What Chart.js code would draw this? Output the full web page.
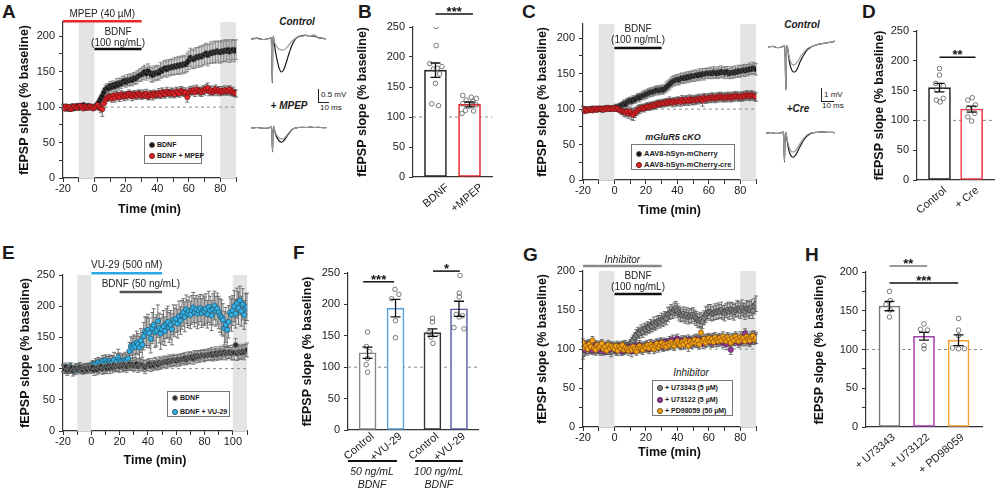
<!DOCTYPE html>
<html>
<head>
<meta charset="utf-8">
<script src="https://cdn.jsdelivr.net/npm/chart.js@4.4.1/dist/chart.umd.min.js"></script>
<style>
  body { margin: 0; background: #fff; font-family: "Liberation Sans", Arial, sans-serif; color: #1a1a1a; }
  #fig { position: relative; width: 999px; height: 492px; overflow: hidden; }
  canvas { position: absolute; }
  .t { position: absolute; white-space: nowrap; line-height: 1; }
  .lt { font-weight: bold; font-size: 19px; }
  .tl { font-weight: bold; font-style: italic; font-size: 10px; width: 60px; text-align: center; }
  .lg { position: absolute; box-sizing: border-box; border: 1px solid #777; background: #fff; font-weight: bold; }
  .lg div { position: absolute; left: 4px; white-space: nowrap; line-height: 1; }
  .dot { display: inline-block; width: 6px; height: 6px; border-radius: 50%; box-sizing: border-box; border: 0.8px solid #333; vertical-align: -1px; margin-right: 2px; }
  .sb { position: absolute; border-left: 1px solid #222; border-bottom: 1px solid #222; }
  .sm { font-size: 8px; }
</style>
</head>
<body>
<div id="fig">
  <div class="t lt" style="left:2px;top:2px">A</div>
  <div class="t lt" style="left:358px;top:2px">B</div>
  <div class="t lt" style="left:522px;top:2px">C</div>
  <div class="t lt" style="left:862px;top:2px">D</div>
  <div class="t lt" style="left:2px;top:243px">E</div>
  <div class="t lt" style="left:293px;top:243px">F</div>
  <div class="t lt" style="left:523px;top:245px">G</div>
  <div class="t lt" style="left:805px;top:245px">H</div>

  <!-- example traces labels -->
  <div class="t tl" style="left:267px;top:17px">Control</div>
  <div class="t tl" style="left:259px;top:101px">+ MPEP</div>
  <div class="sb" style="left:318px;top:89px;width:10px;height:13px"></div>
  <div class="t sm" style="left:321px;top:91px">0.5 mV</div>
  <div class="t sm" style="left:320px;top:104px">10 ms</div>

  <div class="t tl" style="left:772px;top:20px">Control</div>
  <div class="t tl" style="left:768px;top:104px">+Cre</div>
  <div class="sb" style="left:821px;top:88px;width:12px;height:13px"></div>
  <div class="t sm" style="left:824px;top:91px">1 mV</div>
  <div class="t sm" style="left:822px;top:102px">10 ms</div>

  <!-- legends -->
  <div class="lg" style="left:144px;top:135px;width:58px;height:29px;font-size:7px">
    <div style="top:5px"><span class="dot" style="background:#111;border-color:#555"></span>BDNF</div>
    <div style="top:16px"><span class="dot" style="background:#e8262b;border-color:#6a1010"></span>BDNF + MPEP</div>
  </div>
  <div class="t" style="left:623px;top:133px;width:100px;text-align:center;font-size:9px;font-weight:bold;font-style:italic">mGluR5 cKO</div>
  <div class="lg" style="left:631px;top:144px;width:104px;height:26px;font-size:7.5px">
    <div style="top:5px"><span class="dot" style="background:#111;border-color:#555"></span>AAV8-hSyn-mCherry</div>
    <div style="top:16px"><span class="dot" style="background:#e8262b;border-color:#6a1010"></span>AAV8-hSyn-mCherry-cre</div>
  </div>
  <div class="lg" style="left:167px;top:391px;width:63px;height:26px;font-size:7px">
    <div style="top:2px"><span class="dot" style="background:#2a2a2a;border-color:#888"></span>BDNF</div>
    <div style="top:16px"><span class="dot" style="background:#35b0e4;border-color:#1d4f66"></span>BDNF + VU-29</div>
  </div>
  <div class="t" style="left:651px;top:368px;width:80px;text-align:center;font-size:10px;font-style:italic">Inhibitor</div>
  <div class="lg" style="left:652px;top:380px;width:81px;height:36px;font-size:7px">
    <div style="top:3px"><span class="dot" style="background:#8a8a8a;border-color:#333"></span>+ U73343 (5 µM)</div>
    <div style="top:14.5px"><span class="dot" style="background:#9b3aa0;border-color:#4a164d"></span>+ U73122 (5 µM)</div>
    <div style="top:26px"><span class="dot" style="background:#f7a21b;border-color:#7a4d00"></span>+ PD98059 (50 µM)</div>
  </div>
</div>

<script>
// ---------------- data ----------------
// time courses: one sample per minute, first sample at -20 min
const timeStart = -20;

// A: BDNF vs BDNF + MPEP
const aBdnf = [
  101,99,98,100,97,99,101,98,100,102,
  99,101,100,103,101,99,102,100,101,99,
  100,102,104,108,112,116,121,125,127,126,
  130,128,131,129,133,131,134,133,136,137,
  135,138,137,139,138,141,140,142,144,145,
  146,148,150,147,151,149,146,145,148,147,
  149,148,152,151,154,155,153,156,155,157,
  156,158,157,159,158,160,159,161,160,163,
  166,170,168,167,169,171,170,172,171,173,
  174,176,173,175,177,176,178,177,179,178,
  177,179,178,180,179,181,178,180,181,179,
  181];
const aBdnfErr = [
  3,3,4,3,3,3,4,3,3,3,
  4,3,3,3,4,3,3,3,3,3,
  3,3,4,4,5,5,5,6,6,6,
  6,6,6,6,7,7,7,7,7,7,
  7,8,7,8,8,8,8,9,8,9,
  9,9,9,9,10,9,10,10,10,10,
  10,10,11,10,11,11,11,11,11,11,
  11,12,11,12,12,12,12,12,12,13,
  13,13,13,13,14,13,14,14,14,14,
  14,14,15,14,15,14,15,15,14,15,
  15,15,14,15,15,14,15,15,14,15,
  14];
const aMpep = [
  100,98,101,99,100,97,99,101,100,99,
  101,102,100,98,101,100,99,101,100,98,
  99,101,103,100,98,97,105,110,113,115,
  114,112,116,113,117,115,114,118,116,115,
  117,116,119,117,115,118,117,116,119,118,
  116,118,117,119,115,117,118,116,119,117,
  118,120,117,121,119,118,122,120,119,121,
  120,118,122,121,119,123,122,120,121,114,
  121,123,122,124,121,125,123,122,121,124,
  123,126,127,122,124,121,123,125,122,124,
  121,123,122,124,122,123,125,121,122,120,
  119];
const aMpepErr = [
  3,3,3,4,3,3,3,3,4,3,
  3,3,3,3,3,4,3,3,3,3,
  3,4,4,5,6,10,6,5,5,5,
  5,5,5,6,5,5,6,5,5,6,
  5,6,5,5,6,5,6,5,5,6,
  5,6,5,6,5,6,5,6,5,5,
  5,6,5,6,6,5,6,5,6,6,
  6,5,6,6,5,6,6,5,6,7,
  6,6,5,6,6,6,5,6,6,6,
  6,6,7,6,6,5,6,6,6,5,
  5,6,5,6,5,6,5,5,6,5,
  5];

// C: mGluR5 cKO
const cCtrl = [
  101,99,100,98,100,99,101,100,99,100,
  101,100,99,101,100,102,101,100,101,102,
  101,103,102,104,105,106,108,107,110,111,
  112,111,114,113,115,117,116,118,119,120,
  121,122,123,124,124,125,126,127,126,127,
  128,127,129,131,133,135,137,139,140,141,
  142,141,143,144,143,145,144,146,145,147,
  146,147,148,147,149,148,150,149,150,151,
  150,151,150,152,151,150,152,151,153,152,
  151,153,152,150,151,152,151,153,152,154,
  153,154,155,154,156,155,157,156,158,157,
  156];
const cCtrlErr = [
  3,3,3,3,3,3,3,3,3,3,
  3,3,3,3,3,3,3,3,3,3,
  3,4,4,4,4,4,5,5,5,5,
  5,5,5,5,5,5,6,5,6,6,
  6,6,6,6,6,6,6,6,6,6,
  6,6,6,7,7,7,7,7,7,7,
  7,7,7,7,7,7,7,7,7,7,
  7,8,7,7,8,7,7,8,7,7,
  7,8,7,8,7,7,8,7,8,7,
  8,7,8,7,8,8,7,8,7,8,
  8,7,8,8,7,8,8,7,8,8,
  8];
const cCre = [
  100,97,99,98,100,99,98,100,101,99,
  100,101,100,99,101,100,102,100,101,100,
  102,100,101,99,98,97,96,95,97,94,
  96,93,92,95,97,99,100,101,102,101,
  103,104,103,105,104,106,105,107,108,107,
  108,109,108,110,109,111,110,109,111,110,
  111,112,110,113,111,112,113,111,114,112,
  113,112,114,113,115,114,112,116,114,115,
  116,115,117,116,115,117,116,118,117,116,
  117,116,118,117,116,118,117,119,118,117,
  118,117,119,118,120,119,118,120,119,118,
  117];
const cCreErr = [
  3,3,3,3,3,3,3,3,3,3,
  3,3,3,3,3,3,3,3,3,3,
  3,3,4,4,5,5,6,6,7,7,
  7,8,8,7,6,6,6,5,5,5,
  5,5,5,5,5,5,5,5,5,5,
  5,5,5,5,5,6,5,6,5,6,
  6,5,6,6,6,6,6,6,6,6,
  6,6,6,6,6,6,8,6,6,6,
  6,6,6,6,6,6,6,6,6,6,
  6,6,6,6,6,6,6,6,6,6,
  6,6,6,6,6,6,6,6,6,6,
  6];

// E: BDNF 50 ng/mL +/- VU-29 (to 110 min)
const eBdnf = [
  101,99,103,97,100,98,102,96,99,101,
  98,100,102,99,97,101,100,98,102,101,
  99,103,97,101,98,102,100,104,99,101,
  103,100,105,101,104,102,106,103,105,104,
  103,106,104,107,105,103,106,108,105,107,
  104,106,108,103,105,107,106,104,102,105,
  106,108,104,107,105,109,107,106,110,108,
  109,111,110,112,110,113,111,112,114,113,
  112,115,113,114,116,115,117,114,116,118,
  117,119,116,120,118,121,119,120,122,121,
  120,122,121,123,122,124,121,123,125,122,
  124,126,123,125,127,124,126,125,127,124,
  126,125,138,124,127,126,125,128,126,129,
  130];
const eBdnfErr = [
  6,7,6,8,7,6,7,8,6,7,
  7,6,8,7,6,7,7,6,7,7,
  7,8,8,7,8,9,8,9,8,9,
  9,8,9,9,8,9,9,8,9,9,
  9,8,9,9,8,9,9,9,8,9,
  9,9,8,9,9,8,9,9,10,9,
  9,8,9,9,8,9,9,8,9,9,
  8,9,9,8,9,9,8,9,9,8,
  9,8,9,9,8,9,9,8,9,9,
  9,8,9,9,9,8,9,9,8,9,
  9,9,8,9,9,10,9,9,10,9,
  9,10,9,10,9,10,10,9,10,10,
  12,11,10,11,12,11,10,11,12,10,
  11];
const eVu = [
  100,102,98,101,97,103,99,100,96,101,
  99,102,98,100,101,97,99,102,100,101,
  104,106,103,108,107,110,106,109,112,108,
  113,110,108,112,109,111,114,107,112,118,
  113,111,112,109,114,112,116,128,136,133,
  138,135,142,139,134,145,138,152,160,158,
  162,157,148,165,170,158,161,176,165,156,
  163,168,160,172,175,166,170,163,178,174,
  180,172,184,177,186,190,183,195,188,192,
  186,194,198,190,195,188,193,197,189,194,
  192,196,187,199,193,185,195,201,192,196,
  190,185,182,178,165,170,162,175,190,186,
  193,200,188,205,197,209,192,203,186,196,
  199];
const eVuErr = [
  5,5,6,5,5,6,5,5,6,5,
  5,6,5,5,6,5,5,6,5,5,
  6,7,6,8,7,8,9,8,9,10,
  9,10,11,10,11,10,12,11,12,13,
  12,11,12,13,12,11,12,14,15,16,
  16,17,18,17,18,19,20,22,23,24,
  25,24,23,25,26,24,25,26,24,25,
  24,25,23,24,25,24,23,25,24,23,
  22,23,24,22,23,22,24,23,22,23,
  22,23,24,23,22,24,23,22,23,24,
  23,24,22,25,23,24,25,23,24,25,
  26,27,28,26,27,28,27,26,25,26,
  24,25,23,24,26,23,24,25,23,24,
  22];

// G: inhibitors
const gU343 = [
  93,100,105,97,102,99,106,101,98,103,
  100,97,104,99,101,98,103,100,96,102,
  101,99,104,102,98,103,100,105,102,104,
  106,109,111,115,118,121,120,124,122,126,
  125,128,127,130,129,133,131,134,136,135,
  138,137,140,139,144,146,148,147,150,152,
  149,146,144,143,145,142,144,141,143,142,
  144,141,139,137,136,138,135,140,144,146,
  148,147,145,146,148,147,149,148,150,147,
  146,149,150,148,151,149,147,150,152,151,
  149,153,150,148,152,151,150,153,149,155,
  158];
const gU343Err = [
  6,5,6,5,6,5,6,5,6,5,
  6,5,6,5,6,5,6,5,6,5,
  6,5,6,5,6,6,5,6,6,5,
  6,6,7,6,7,7,6,7,7,7,
  7,7,7,8,7,8,7,8,7,8,
  8,8,8,8,9,8,9,8,9,9,
  9,9,9,8,9,9,9,9,9,9,
  9,9,9,9,9,9,9,9,10,9,
  9,10,9,9,10,9,10,9,10,9,
  10,9,10,10,9,10,10,9,10,10,
  10,10,9,10,10,10,11,10,10,10,
  10];
const gU122 = [
  104,99,102,106,100,103,98,101,105,102,
  99,104,101,97,103,100,102,99,104,101,
  102,98,100,103,101,97,104,99,102,100,
  103,97,101,104,99,102,105,100,103,101,
  104,102,100,106,103,105,102,107,104,108,
  106,103,109,107,105,110,106,112,108,111,
  113,109,107,111,106,110,108,112,109,107,
  111,109,113,108,112,110,107,111,109,113,
  110,112,108,114,111,109,113,110,112,108,
  111,106,113,109,99,112,110,114,111,108,
  112,110,115,120,111,113,109,114,112,116,
  113];
const gU122Err = [
  5,5,6,5,5,6,5,5,6,5,
  5,6,5,5,6,5,5,6,5,5,
  5,6,5,5,6,5,6,5,6,5,
  6,7,5,6,5,6,6,5,6,5,
  6,5,6,6,5,6,6,5,6,6,
  6,6,5,6,6,6,5,6,6,6,
  6,6,6,6,6,6,6,6,6,6,
  6,6,6,6,6,6,6,6,6,6,
  6,6,6,6,6,6,6,6,6,6,
  6,7,6,6,6,6,6,6,6,6,
  6,6,7,6,6,6,6,6,6,7,
  6];
const gPd = [
  108,102,104,100,106,103,111,101,99,105,
  102,104,107,100,103,98,105,101,104,102,
  100,104,98,103,101,105,99,102,100,98,
  101,99,103,100,97,102,104,101,99,103,
  102,105,101,106,103,100,104,107,102,105,
  108,104,106,103,107,105,109,106,104,108,
  110,107,105,109,106,111,108,104,110,107,
  109,112,108,111,106,121,110,113,108,112,
  114,110,113,109,115,112,110,114,111,116,
  113,110,115,112,108,114,111,116,113,110,
  115,112,114,110,116,113,111,115,117,112,
  114];
const gPdErr = [
  5,6,5,5,6,5,5,6,5,5,
  6,5,5,6,5,5,6,5,5,6,
  5,5,6,5,6,5,6,5,5,6,
  6,5,6,6,5,6,5,6,6,5,
  6,6,5,6,6,6,5,6,6,6,
  6,6,6,5,6,6,6,6,6,6,
  6,6,6,6,6,6,6,7,6,6,
  6,6,6,6,6,7,6,6,6,6,
  6,7,6,6,6,6,7,6,6,6,
  6,6,6,7,6,6,6,6,7,6,
  7,6,6,6,7,6,6,7,6,6,
  7];

// B: bar + individual slices
const bCats = ['BDNF', '+MPEP'];
const bMeans = [178, 121];
const bSems = [12, 4];
const bBdnfPts = [251, 219, 189, 184, 181, 180, 172, 156, 122, 119];
const bMpepPts = [136, 133, 131, 128, 126, 122, 120, 118, 111, 110, 106];

// D
const dCats = ['Control', '+ Cre'];
const dMeans = [155, 119];
const dSems = [7, 5];
const dCtrlPts = [187, 176, 162, 158, 151, 137, 134, 131];
const dCrePts = [138, 134, 126, 120, 112, 106, 99];

// F
const fCats = ['Control', '+VU-29', 'Control', '+VU-29'];
const fMeans = [123, 194, 155, 193];
const fSems = [9, 14, 6, 12];
const fCtl50Pts = [156, 133, 125, 114, 104, 92];
const fVu50Pts = [224, 216, 209, 174, 147];
const fCtl100Pts = [178, 172, 155, 152, 148, 138];
const fVu100Pts = [246, 218, 212, 184, 182, 180, 163, 161];

// H
const hCats = ['+ U73343', '+ U73122', '+ PD98059'];
const hMeans = [156, 117, 112];
const hSems = [6, 5, 7];
const hU343Pts = [175, 163, 158, 151, 142];
const hU122Pts = [133, 126, 125, 105, 101];
const hPdPts = [140, 125, 118, 102, 101, 101];

// example fEPSP traces (ms, mV)
const trTimeA = [0,6,12,18,20,21,21.5,22,23,24,26,28,30,32,34,36,38,40,43,46,50,54,58,62,66,70,74];
const trACtrlPost = [0,0.03,-0.02,0.02,0.05,-1.69,-0.2,0.1,-0.15,-0.45,-0.85,-1.15,-1.27,-1.2,-1.0,-0.75,-0.5,-0.28,-0.05,0.08,0.12,0.15,0.1,0.12,0.05,0.03,0];
const trACtrlPre = [0,0.02,-0.02,0.02,0.05,-1.65,-0.2,0.08,-0.1,-0.2,-0.32,-0.4,-0.42,-0.42,-0.38,-0.3,-0.2,-0.1,0,0.08,0.1,0.14,0.1,0.16,0.06,0.03,0];
const trAMpepPost = [0,0.02,-0.01,0.01,0.04,-0.92,-0.15,0.06,-0.1,-0.25,-0.42,-0.52,-0.54,-0.48,-0.38,-0.26,-0.15,-0.06,0,0.02,0.03,0.02,0.04,0.02,0.03,0.01,0.02];
const trAMpepPre = [0,0.02,-0.01,0.01,0.04,-0.9,-0.15,0.06,-0.08,-0.2,-0.33,-0.4,-0.42,-0.39,-0.32,-0.22,-0.13,-0.05,0,0.02,0.03,0.02,0.04,0.02,0.03,0.01,0.02];
const trTimeC = [0,4,8,12,14,15,15.5,16,17,18,19.5,21,22.5,24,25.5,27,29,31,33,36,39,42,45,48,51,54,56];
const trCCtrlPost = [0,0.05,-0.05,0.02,0.1,-3.3,-0.4,0.1,-0.5,-1.2,-1.7,-1.9,-1.92,-1.75,-1.45,-1.1,-0.75,-0.45,-0.2,0,0.12,0.2,0.25,0.3,0.35,0.4,0.45];
const trCCtrlPre = [0,0.05,-0.05,0.02,0.1,-3.2,-0.4,0.1,-0.4,-0.9,-1.25,-1.38,-1.35,-1.2,-1.0,-0.75,-0.5,-0.3,-0.12,0.02,0.12,0.2,0.25,0.3,0.36,0.4,0.44];
const trCCrePost = [0,0.03,-0.03,0.01,0.08,-2.23,-0.3,0.05,-0.5,-1.1,-1.6,-1.82,-1.85,-1.7,-1.45,-1.15,-0.8,-0.5,-0.25,-0.05,0.03,0.05,0.08,0.06,0.05,0.04,0.03];
const trCCrePre = [0,0.03,-0.03,0.01,0.08,-2.15,-0.3,0.05,-0.4,-0.85,-1.25,-1.44,-1.46,-1.35,-1.15,-0.9,-0.62,-0.38,-0.18,-0.02,0.03,0.05,0.07,0.06,0.05,0.04,0.03];

// ---------------- drawing ----------------
Chart.defaults.font.family = '"Liberation Sans", Arial, sans-serif';
Chart.defaults.color = '#222';
const AX = '#333';
const F10 = '10px "Liberation Sans", Arial, sans-serif';
const F10I = 'italic 10px "Liberation Sans", Arial, sans-serif';
const fig = document.getElementById('fig');

function cv(l, t, w, h) {
  const c = document.createElement('canvas');
  c.width = w; c.height = h;
  c.style.left = l + 'px'; c.style.top = t + 'px';
  fig.appendChild(c);
  return c;
}

function drawErr(chart) {
  const { ctx, scales: { y } } = chart;
  chart.data.datasets.forEach((ds, i) => {
    if (!ds.err) return;
    const meta = chart.getDatasetMeta(i);
    ctx.strokeStyle = ds.errColor;
    ctx.lineWidth = ds.errWidth;
    const cap = ds.errCap;
    meta.data.forEach((el, j) => {
      const v = ds.data[j].y, e = ds.err[j];
      const t = y.getPixelForValue(v + e), b = y.getPixelForValue(v - e), px = el.x;
      ctx.beginPath();
      ctx.moveTo(px, t); ctx.lineTo(px, b);
      ctx.moveTo(px - cap, t); ctx.lineTo(px + cap, t);
      ctx.moveTo(px - cap, b); ctx.lineTo(px + cap, b);
      ctx.stroke();
    });
  });
}

const deco = {
  id: 'deco',
  beforeDatasetsDraw(chart, args, o) {
    const { ctx, chartArea: a, scales: { x, y } } = chart;
    ctx.save();
    (o.shade || []).forEach(([s, e]) => {
      const x0 = x.getPixelForValue(s), x1 = x.getPixelForValue(e);
      ctx.fillStyle = '#e4e4e4';
      ctx.fillRect(x0, a.top, x1 - x0, a.bottom - a.top);
    });
    if (o.base != null) {
      const py = y.getPixelForValue(o.base);
      ctx.strokeStyle = '#8a8a8a'; ctx.lineWidth = 1; ctx.setLineDash([3, 3]);
      ctx.beginPath(); ctx.moveTo(a.left, py); ctx.lineTo(a.right, py); ctx.stroke();
      ctx.setLineDash([]);
    }
    if (!o.errOnTop) drawErr(chart);
    ctx.restore();
  },
  afterDatasetsDraw(chart, args, o) {
    if (o.errOnTop) { chart.ctx.save(); drawErr(chart); chart.ctx.restore(); }
  },
  afterDraw(chart, args, o) {
    const { ctx, chartArea: a, scales: { x, y } } = chart;
    ctx.save();
    ctx.textAlign = 'center'; ctx.textBaseline = 'middle';
    (o.drugs || []).forEach(d => {
      const x0 = x.getPixelForValue(d.from), x1 = x.getPixelForValue(d.to), py = y.getPixelForValue(d.at);
      ctx.strokeStyle = d.color; ctx.lineWidth = 2.5;
      ctx.beginPath(); ctx.moveTo(x0, py); ctx.lineTo(x1, py); ctx.stroke();
      ctx.fillStyle = '#222';
      d.text.forEach(([s, dy, f]) => { ctx.font = f || F10; ctx.fillText(s, (x0 + x1) / 2, py - dy); });
    });
    (o.sig || []).forEach(s => {
      const x0 = x.getPixelForValue(s.from), x1 = x.getPixelForValue(s.to), py = y.getPixelForValue(s.at);
      ctx.strokeStyle = s.color || '#111'; ctx.lineWidth = 1.5;
      ctx.beginPath(); ctx.moveTo(x0, py); ctx.lineTo(x1, py); ctx.stroke();
      ctx.fillStyle = '#111'; ctx.font = 'bold 13px "Liberation Sans", Arial, sans-serif';
      ctx.textBaseline = 'alphabetic';
      ctx.fillText(s.stars, (x0 + x1) / 2, py + 2);
      ctx.textBaseline = 'middle';
    });
    (o.groups || []).forEach(g => {
      const x0 = x.getPixelForValue(g.from), x1 = x.getPixelForValue(g.to), xm = x.getPixelForValue(g.mid);
      ctx.strokeStyle = '#111'; ctx.lineWidth = 2;
      ctx.beginPath(); ctx.moveTo(x0, a.bottom + 31); ctx.lineTo(x1, a.bottom + 31); ctx.stroke();
      ctx.fillStyle = '#222'; ctx.font = 'italic 10.5px "Liberation Sans", Arial, sans-serif';
      ctx.fillText(g.lines[0], xm, a.bottom + 42);
      ctx.fillText(g.lines[1], xm, a.bottom + 55);
    });
    ctx.restore();
  }
};
Chart.register(deco);

function yAxis(max, w) {
  return {
    min: 0, max: max,
    afterFit: s => { s.width = w; },
    ticks: { stepSize: 25, includeBounds: false, font: { size: 11 }, color: '#222', padding: 4,
             callback: v => (v % 50 === 0 ? v : '') },
    grid: { drawOnChartArea: false, tickLength: 4, tickColor: AX, tickWidth: 1 },
    border: { color: AX, width: 1.2 },
    title: { display: true, text: 'fEPSP slope (% baseline)', font: { size: 12.5, weight: 'bold' }, color: '#111', padding: 0 }
  };
}

function series(vals, err, col) {
  return {
    data: vals.map((v, i) => ({ x: timeStart + i, y: v })),
    err: err, errColor: col.err, errWidth: 0.8, errCap: 2,
    backgroundColor: col.fill, borderColor: col.edge, borderWidth: 0.7,
    pointRadius: col.r || 2.5, order: col.order
  };
}

function timeChart(el, p) {
  return new Chart(el, {
    type: 'scatter',
    data: { datasets: p.sets },
    options: {
      responsive: false, animation: false, events: [],
      layout: { padding: p.pad },
      plugins: { legend: { display: false }, tooltip: { enabled: false }, deco: p.deco },
      scales: {
        x: {
          type: 'linear', min: p.xmin, max: p.xmax,
          afterFit: s => { s.height = p.xh; },
          ticks: { stepSize: 10, includeBounds: false, autoSkip: false, maxRotation: 0, font: { size: 11 }, color: '#222', padding: 0,
                   callback: v => (v % 20 === 0 ? v : '') },
          grid: { drawOnChartArea: false, tickLength: 4, tickColor: AX, tickWidth: 1 },
          border: { color: AX, width: 1.2 },
          title: { display: true, text: 'Time (min)', font: { size: 12.5, weight: 'bold' }, color: '#111', padding: 0 }
        },
        y: yAxis(p.ymax, p.yw)
      }
    }
  });
}

function barChart(el, p) {
  const sets = [{
    type: 'bar',
    data: p.means.map((m, i) => ({ x: p.slots[i], y: m })),
    err: p.sems, errColor: '#111', errWidth: 1.3, errCap: 5,
    backgroundColor: '#fff', borderColor: p.colors, borderWidth: 1.6, borderSkipped: false,
    barThickness: p.bw, order: 2
  }];
  p.pts.forEach((arr, i) => sets.push({
    type: 'scatter',
    data: arr.map((v, k) => ({ x: p.slots[i] + p.jit[i][k], y: v })),
    pointRadius: 2.3, borderColor: '#6a6a6a', borderWidth: 0.9, backgroundColor: 'rgba(255,255,255,0)', order: 1
  }));
  return new Chart(el, {
    type: 'bar',
    data: { datasets: sets },
    options: {
      responsive: false, animation: false, events: [],
      layout: { padding: p.pad },
      plugins: { legend: { display: false }, tooltip: { enabled: false }, deco: p.deco },
      scales: {
        x: {
          type: 'linear', min: p.xmin, max: p.xmax, offset: false,
          afterFit: s => { s.height = p.xh; },
          // label anchors nudged right, as the rotated labels sit in the original
          afterBuildTicks: s => { s.ticks = p.slots.map(v => ({ value: v + p.lshift })); },
          ticks: { autoSkip: false, minRotation: 40, maxRotation: 40, font: { size: 11 }, color: '#222', padding: p.lpad,
                   callback: (v, i) => p.cats[i] },
          grid: { display: false, offset: false },
          border: { display: true, color: AX, width: 1.2 }
        },
        y: yAxis(p.ymax, p.yw)
      }
    }
  });
}

function traceChart(el, t, post, pre, ymin, ymax) {
  return new Chart(el, {
    type: 'line',
    data: { datasets: [
      { data: t.map((x, i) => ({ x, y: pre[i] })), borderColor: '#9a9a9a', borderWidth: 1.2, pointRadius: 0, cubicInterpolationMode: 'monotone', order: 0 },
      { data: t.map((x, i) => ({ x, y: post[i] })), borderColor: '#1a1a1a', borderWidth: 1.2, pointRadius: 0, cubicInterpolationMode: 'monotone', order: 1 }
    ] },
    options: {
      responsive: false, animation: false, events: [],
      layout: { padding: 0 },
      plugins: { legend: { display: false }, tooltip: { enabled: false } },
      scales: {
        x: { type: 'linear', display: false, min: t[0], max: t[t.length - 1] },
        y: { display: false, min: ymin, max: ymax }
      }
    }
  });
}

const BLACK = { fill: '#111', edge: '#555', err: '#777' };
const RED = { fill: '#e8262b', edge: '#6a1010', err: '#555' };

// ---- A ----
timeChart(cv(0, 0, 250, 240), {
  pad: { left: 17, top: 22, right: 14, bottom: 22.5 }, yw: 46, xh: 39.5,
  xmin: -20, xmax: 90, ymax: 220,
  sets: [series(aMpep, aMpepErr, { ...RED, order: 0 }), series(aBdnf, aBdnfErr, { ...BLACK, order: 1 })],
  deco: {
    shade: [[-10, 0], [80, 90]], base: 100,
    drugs: [
      { from: -20, to: 30, at: 221, color: '#e8262b', text: [['MPEP (40 µM)', 7]] },
      { from: 0, to: 30, at: 182, color: '#111', text: [['BDNF', 17], ['(100 ng/mL)', 6]] }
    ]
  }
});

// ---- C ----
timeChart(cv(510, 0, 260, 240), {
  pad: { left: 25.5, top: 24, right: 14, bottom: 21.5 }, yw: 47.5, xh: 38.5,
  xmin: -20, xmax: 90, ymax: 220,
  sets: [series(cCre, cCreErr, { ...RED, order: 0 }), series(cCtrl, cCtrlErr, { ...BLACK, order: 1 })],
  deco: {
    shade: [[-10, 0], [80, 90]], base: 100,
    drugs: [{ from: 0, to: 30, at: 186, color: '#111', text: [['BDNF', 19], ['(100 ng/mL)', 8]] }]
  }
});

// ---- E ----
timeChart(cv(0, 240, 260, 252), {
  pad: { left: 18.5, top: 35, right: 13, bottom: 23.5 }, yw: 44.5, xh: 37.5,
  xmin: -20, xmax: 110, ymax: 250,
  sets: [
    series(eBdnf, eBdnfErr, { fill: '#2a2a2a', edge: '#8a8a8a', err: '#666', r: 2.6, order: 0 }),
    series(eVu, eVuErr, { fill: '#35b0e4', edge: '#1d4f66', err: '#555', r: 2.6, order: 1 })
  ],
  deco: {
    shade: [[-10, 0], [100, 110]], base: 100,
    drugs: [
      { from: 0, to: 50, at: 253, color: '#29abe2', text: [['VU-29 (500 nM)', 8]] },
      { from: 20, to: 50, at: 222.7, color: '#555', text: [['BDNF (50 ng/mL)', 8]] }
    ]
  }
});

// ---- G ----
timeChart(cv(510, 240, 260, 252), {
  pad: { left: 25.5, top: 31, right: 14, bottom: 31.5 }, yw: 47.5, xh: 33.5,
  xmin: -20, xmax: 90, ymax: 200,
  sets: [
    series(gPd, gPdErr, { fill: '#f7a21b', edge: '#7a4d00', err: '#555', r: 2.6, order: 0 }),
    series(gU122, gU122Err, { fill: '#9b3aa0', edge: '#4a164d', err: '#555', r: 2.6, order: 1 }),
    series(gU343, gU343Err, { fill: '#8a8a8a', edge: '#333', err: '#555', r: 2.6, order: 2 })
  ],
  deco: {
    shade: [[-10, 0], [80, 90]], base: 100,
    drugs: [
      { from: -20, to: 30, at: 206.4, color: '#888', text: [['Inhibitor', 6, F10I]] },
      { from: 0, to: 30, at: 170.5, color: '#111', text: [['BDNF', 18], ['(100 ng/mL)', 7]] }
    ]
  }
});

// ---- B ----
barChart(cv(335, 0, 165, 240), {
  pad: { left: 20.5, top: 27, right: 8, bottom: 8 }, yw: 57.5, xh: 55,
  xmin: -0.66, xmax: 1.66, ymax: 250, bw: 22, lshift: 0.35, lpad: -4,
  cats: bCats, slots: [0, 1], means: bMeans, sems: bSems,
  colors: ['#222', '#e8262b'],
  pts: [bBdnfPts, bMpepPts],
  jit: [[0.02, 0.02, -0.17, 0.19, 0.05, -0.06, 0.12, 0.0, -0.11, 0.09],
        [-0.2, 0.05, 0.2, -0.1, 0.1, -0.2, 0.2, 0.0, -0.12, 0.12, -0.22]],
  deco: { base: 100, errOnTop: true, sig: [{ from: 0, to: 1.1, at: 271.7, stars: '***' }] }
});

// ---- D ----
barChart(cv(840, 0, 159, 240), {
  pad: { left: 32.5, top: 31, right: 3, bottom: 5 }, yw: 44.5, xh: 55,
  xmin: -0.7, xmax: 1.7, ymax: 250, bw: 22, lshift: 0.18, lpad: -4,
  cats: dCats, slots: [0, 1], means: dMeans, sems: dSems,
  colors: ['#222', '#ef3b4a'],
  pts: [dCtrlPts, dCrePts],
  jit: [[0, 0, -0.12, 0.12, -0.08, 0.12, -0.1, 0.02],
        [0.02, -0.12, 0.12, -0.1, 0.1, -0.12, 0]],
  deco: { base: 100, errOnTop: true, sig: [{ from: 0, to: 1.12, at: 206, stars: '**' }] }
});

// ---- F ----
barChart(cv(300, 240, 190, 252), {
  pad: { left: 0.5, top: 33, right: 12, bottom: 22 }, yw: 47.5, xh: 40,
  xmin: -0.7, xmax: 3.95, ymax: 250, bw: 17, lshift: 0.18, lpad: -8,
  cats: fCats, slots: [0, 1, 2.32, 3.27], means: fMeans, sems: fSems,
  colors: ['#888', '#5aa0d8', '#333', '#5a5fa8'],
  pts: [fCtl50Pts, fVu50Pts, fCtl100Pts, fVu100Pts],
  jit: [[0, -0.04, 0.06, 0, -0.05, 0],
        [-0.02, 0.12, -0.14, 0, 0],
        [0, 0, -0.12, 0.12, -0.05, 0.02],
        [0.04, 0.01, 0.01, -0.1, 0.13, 0.01, -0.18, 0.18]],
  deco: {
    base: 100, errOnTop: true,
    sig: [{ from: -0.16, to: 0.95, at: 236, stars: '***' }, { from: 2.34, to: 3.3, at: 253, stars: '*' }],
    groups: [{ from: -0.7, to: 1.05, mid: 0.16, lines: ['50 ng/mL', 'BDNF'] },
             { from: 1.7, to: 3.41, mid: 2.55, lines: ['100 ng/mL', 'BDNF'] }]
  }
});

// ---- H ----
barChart(cv(800, 240, 199, 252), {
  pad: { left: 12.5, top: 32, right: 17, bottom: 5 }, yw: 53.5, xh: 60,
  xmin: -0.68, xmax: 2.68, ymax: 200, bw: 21, lshift: 0.12, lpad: -4,
  cats: hCats, slots: [0, 1, 2], means: hMeans, sems: hSems,
  colors: ['#777', '#a33cae', '#f7a030'],
  pts: [hU343Pts, hU122Pts, hPdPts],
  jit: [[0, 0.02, -0.1, 0.02, 0],
        [0, -0.1, 0.1, 0, 0],
        [0, 0, 0, -0.17, 0, 0.17]],
  deco: {
    base: 100, errOnTop: true,
    sig: [{ from: 0, to: 1.09, at: 207.7, stars: '**', color: '#777' },
          { from: 0, to: 1.99, at: 185.8, stars: '***' }]
  }
});

// ---- traces ----
traceChart(cv(251, 30, 75, 58), trTimeA, trACtrlPost, trACtrlPre, -1.885, 0.346);
traceChart(cv(251, 120, 76, 36), trTimeA, trAMpepPost, trAMpepPre, -1.077, 0.308);
traceChart(cv(768, 36, 67, 59), trTimeC, trCCtrlPost, trCCtrlPre, -3.69, 0.846);
traceChart(cv(766, 125, 69, 41), trTimeC, trCCrePost, trCCrePre, -2.54, 0.615);
</script>
</body>
</html>
